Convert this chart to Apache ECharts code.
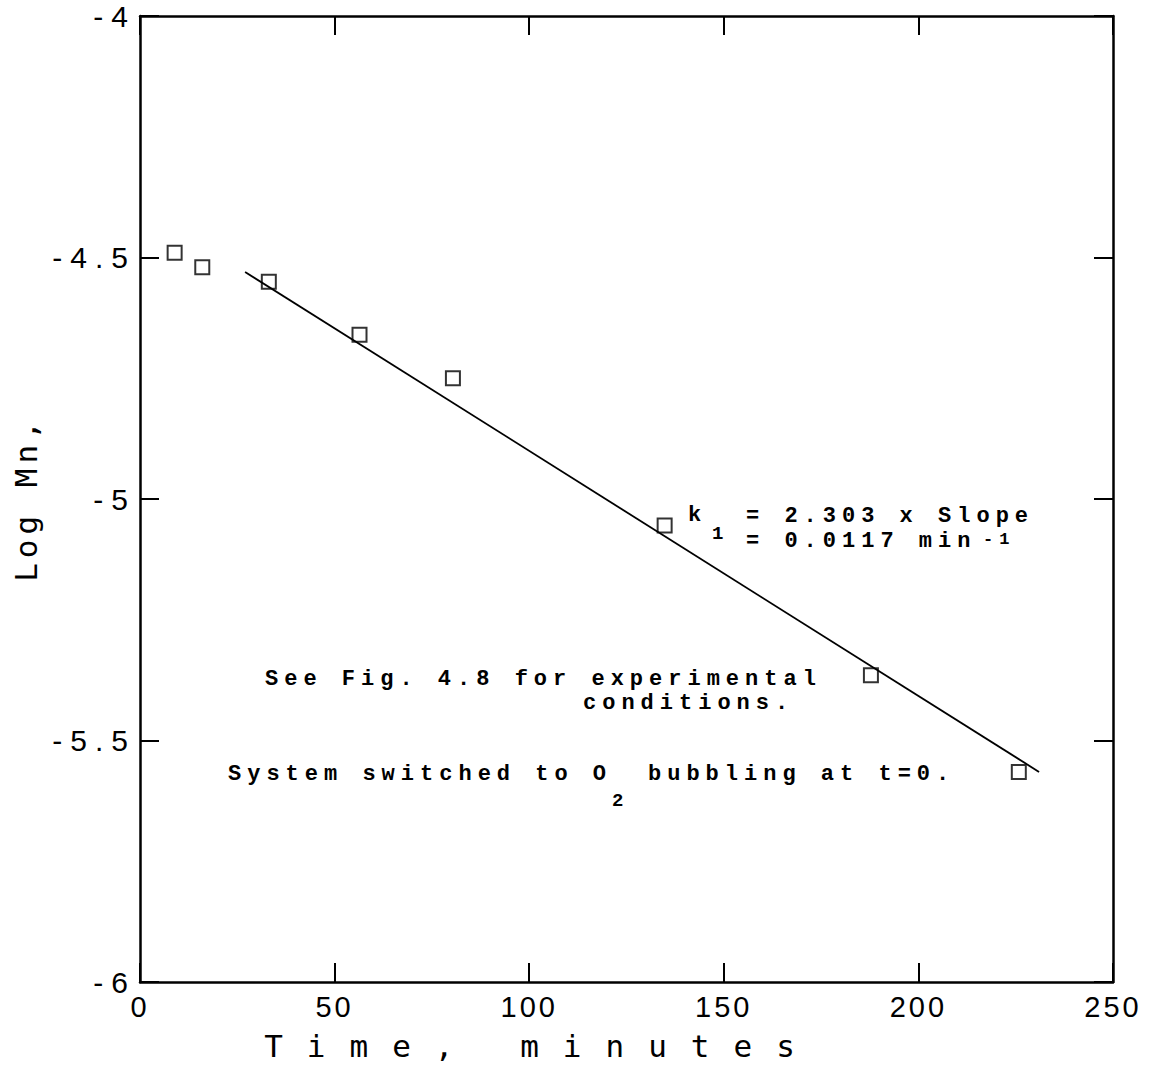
<!DOCTYPE html>
<html>
<head>
<meta charset="utf-8">
<script src="https://cdn.jsdelivr.net/npm/echarts@6/dist/echarts.min.js"></script>
<style>
  html, body { margin: 0; padding: 0; background: #fff; }
  #chart { width: 1156px; height: 1066px; }
</style>
</head>
<body>
<div id="chart"></div>
<script>
// Measured Mn concentration (log scale) after switching to O2 bubbling
const timeMin = [8.9, 16.0, 33.1, 56.4, 80.4, 134.8, 187.8, 225.8];
const logMn   = [-4.49, -4.52, -4.55, -4.66, -4.75, -5.055, -5.365, -5.565];

// First-order fit line (k1 = 2.303 x slope = 0.0117 min^-1)
const fitTime  = [27, 231];
const fitLogMn = [-4.53, -5.565];

// Axis tick labels
const xTickLabels = ['0', '50', '100', '150', '200', '250'];
const yTickLabels = ['-4', '-4.5', '-5', '-5.5', '-6'];
const xTickValues = [0, 50, 100, 150, 200, 250];
const yTickValues = [-4, -4.5, -5, -5.5, -6];

const xName = 'Time, minutes';
const yName = 'Log Mn,';

// Typed notes inside the plot (sub/superscripts are separate, smaller pieces)
const notes = [
  { text: 'k', x: 688, y: 515 },
  { text: '1', x: 712, y: 534, size: 19 },
  { text: '= 2.303 x Slope', x: 746, y: 516 },
  { text: '= 0.0117 min', x: 746, y: 541 },
  { text: '-1', x: 983, y: 539, size: 17 },
  { text: 'See Fig. 4.8 for experimental', x: 265, y: 679 },
  { text: 'conditions.', x: 583, y: 703 },
  { text: 'System switched to O', x: 228, y: 774 },
  { text: '2', x: 612, y: 801, size: 19 },
  { text: 'bubbling at t=0.', x: 648, y: 774 }
];

const chart = echarts.init(document.getElementById('chart'), null, { renderer: 'svg' });

const frame = { lineStyle: { color: '#000', width: 2.5 }, onZero: false };
const ticks = { inside: true, length: 19, lineStyle: { color: '#000', width: 2 } };
const sansFont = '"Liberation Sans", Arial, sans-serif';
const monoFont = '"DejaVu Sans Mono", monospace';
const typeFont = '"Liberation Mono", "Courier New", monospace';

function lookup(values, labels) {
  return function (v) {
    for (let i = 0; i < values.length; i++) {
      if (Math.abs(values[i] - v) < 1e-9) return labels[i];
    }
    return '';
  };
}

chart.setOption({
  animation: false,
  backgroundColor: '#fff',
  grid: { left: 140, right: 43, top: 16, bottom: 80, containLabel: false },
  xAxis: [
    {
      type: 'value', min: 0, max: 250, interval: 50, position: 'bottom',
      axisLine: frame, axisTick: ticks, splitLine: { show: false },
      axisLabel: {
        margin: 10, color: '#000', fontSize: 29, fontFamily: sansFont,
        formatter: lookup(xTickValues, xTickLabels)
      },
      name: xName, nameLocation: 'middle', nameGap: 48,
      nameTextStyle: { color: '#000', fontSize: 31, fontFamily: monoFont, padding: [0, 170, 0, 0] }
    },
    {
      type: 'value', min: 0, max: 250, interval: 50, position: 'top',
      axisLine: frame, axisTick: ticks, splitLine: { show: false },
      axisLabel: { show: false }
    }
  ],
  yAxis: [
    {
      type: 'value', min: -6, max: -4, interval: 0.5, position: 'left',
      axisLine: frame, axisTick: ticks, splitLine: { show: false },
      axisLabel: {
        margin: 4, color: '#000', fontSize: 30, fontFamily: sansFont,
        formatter: lookup(yTickValues, yTickLabels)
      },
      name: yName, nameLocation: 'middle', nameGap: 99,
      nameTextStyle: { color: '#000', fontSize: 31, fontFamily: monoFont }
    },
    {
      type: 'value', min: -6, max: -4, interval: 0.5, position: 'right',
      axisLine: frame, axisTick: ticks, splitLine: { show: false },
      axisLabel: { show: false }
    }
  ],
  series: [
    {
      type: 'line',
      data: fitTime.map((t, i) => [t, fitLogMn[i]]),
      symbol: 'none',
      lineStyle: { color: '#000', width: 1.8 },
      silent: true, z: 2
    },
    {
      type: 'scatter',
      data: timeMin.map((t, i) => [t, logMn[i]]),
      symbol: 'rect', symbolSize: 14,
      itemStyle: { color: 'rgba(0,0,0,0)', borderColor: '#000', borderWidth: 2 },
      z: 3
    }
  ],
  graphic: notes.map(n => ({
    type: 'text', silent: true,
    position: [n.x, n.y],
    style: {
      text: n.text, fill: '#000',
      font: 'bold ' + (n.size || 22) + 'px ' + typeFont,
      lineHeight: (n.size || 22) - 4,
      verticalAlign: 'middle'
    }
  }))
});

// Wide, evenly pitched lettering like the typed/plotted originals
const noteTexts = new Set(notes.map(n => n.text));
function letterSpacingFor(s) {
  if (s === xName) return 24;
  if (s === yName) return 5;
  if (noteTexts.has(s)) return 6;
  if (s.charAt(0) === '-') return 8;
  return 3;
}
function spaceLetters() {
  document.querySelectorAll('#chart svg text').forEach(t => {
    t.style.letterSpacing = letterSpacingFor(t.textContent) + 'px';
  });
}
chart.on('finished', spaceLetters);
setTimeout(spaceLetters, 50);
</script>
</body>
</html>
